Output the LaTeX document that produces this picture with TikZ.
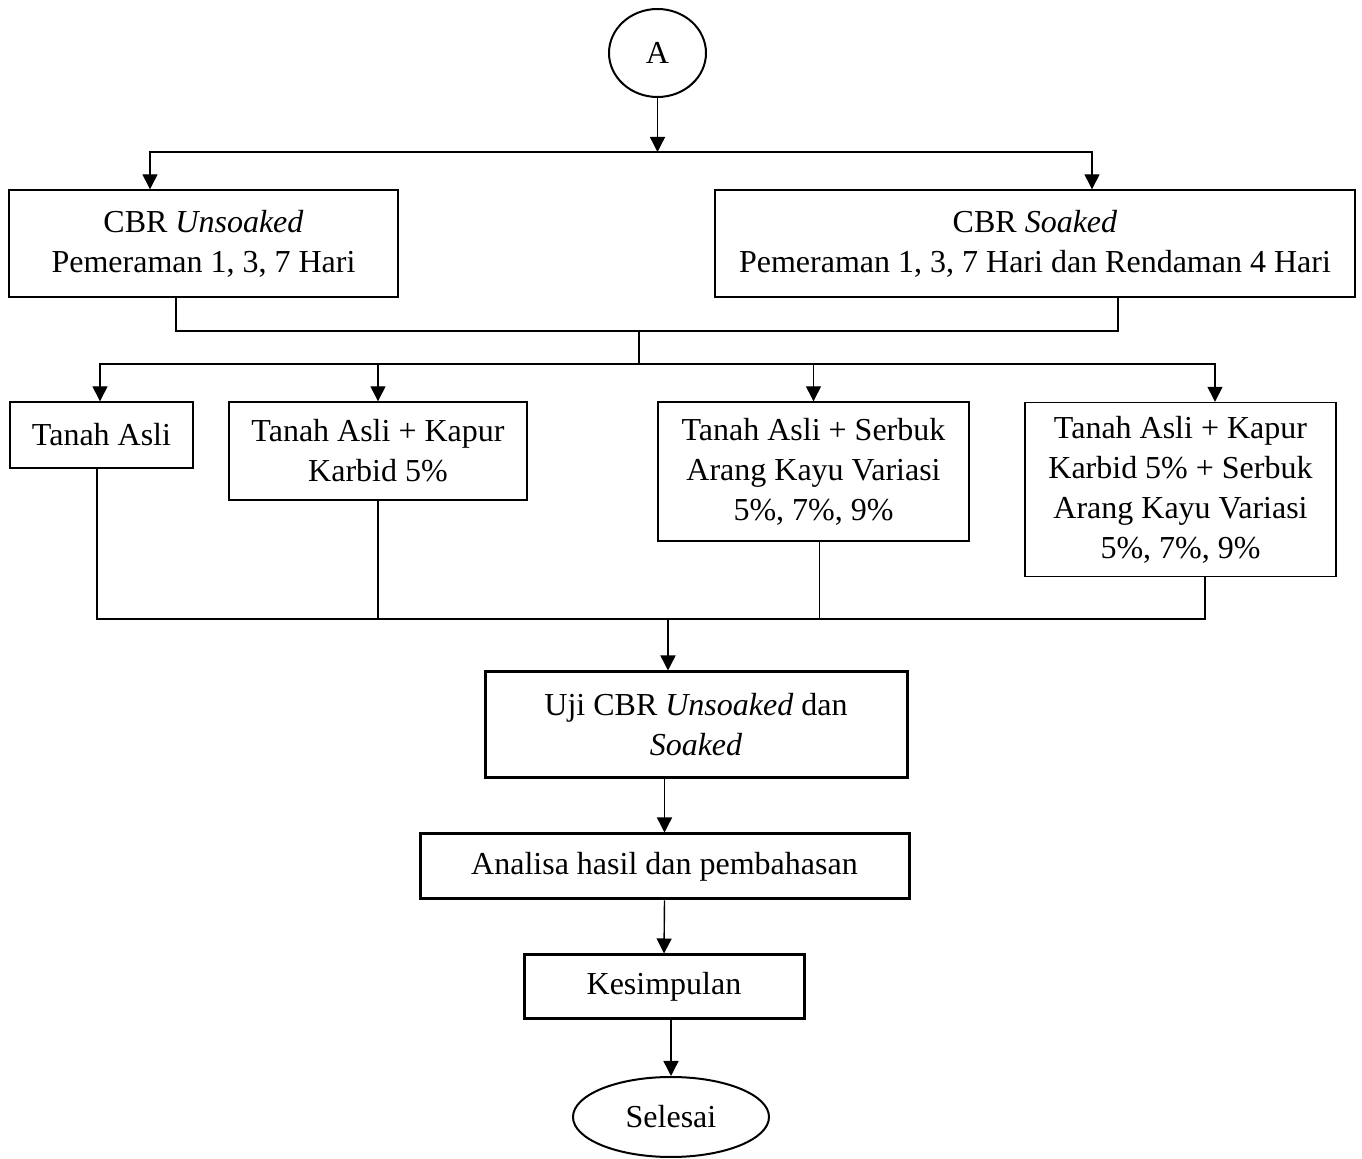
\documentclass[tikz,border=0pt]{standalone}
\usepackage{fontspec}
\setmainfont{Liberation Serif}
\usetikzlibrary{shapes.geometric, arrows.meta, positioning}

\tikzset{
    box/.style={draw, line width=0.7pt, rectangle, inner sep=0pt, align=center,
        font=\fontsize{16pt}{20pt}\selectfont},
    thickbox/.style={box, line width=1.5pt},
    term/.style={draw, line width=1pt, ellipse, inner sep=0pt,
        font=\fontsize{16pt}{20pt}\selectfont},
    arr/.style={line width=0.7pt, -{Triangle[length=7.5pt, width=7.5pt]}},
    link/.style={line width=0.7pt}
}

\begin{document}
\begin{tikzpicture}[x=0.5pt, y=-0.5pt]
    \useasboundingbox (0,0) rectangle (1362,1159);

    % Start connector
    \node[term, minimum width=48.5pt, minimum height=44pt] (A) at (657.5,53) {A};

    % CBR boxes
    \node[box, minimum width=194.5pt, minimum height=53.5pt] (unsoak) at (203.5,243.5)
        {CBR \textit{Unsoaked}\\Pemeraman 1, 3, 7 Hari};
    \node[box, minimum width=320pt, minimum height=53.5pt] (soak) at (1035,243.5)
        {CBR \textit{Soaked}\\Pemeraman 1, 3, 7 Hari dan Rendaman 4 Hari};

    % Mixture boxes (tops at y = 402)
    \node[box, minimum width=91.5pt, minimum height=33pt] (asli) at (101.5,435) {Tanah Asli};
    \node[box, minimum width=149pt, minimum height=49pt] (kapur) at (378,451)
        {Tanah Asli + Kapur\\Karbid 5\%};
    \node[box, minimum width=155.5pt, minimum height=69.5pt] (serbuk) at (813.5,471.5)
        {Tanah Asli + Serbuk\\Arang Kayu Variasi\\5\%, 7\%, 9\%};
    \node[box, minimum width=155.5pt, minimum height=87pt] (campur) at (1180.5,489.5)
        {Tanah Asli + Kapur\\Karbid 5\% + Serbuk\\Arang Kayu Variasi\\5\%, 7\%, 9\%};

    % Test, analysis, conclusion
    \node[thickbox, minimum width=211pt, minimum height=53pt] (uji) at (696,725)
        {Uji CBR \textit{Unsoaked} dan\\\textit{Soaked}};
    \node[thickbox, minimum width=244.5pt, minimum height=32.5pt] (analisa) at (664.5,866.5)
        {Analisa hasil dan pembahasan};
    \node[thickbox, minimum width=140pt, minimum height=32pt] (kesimpulan) at (664,987)
        {Kesimpulan};
    \node[term, minimum width=98pt, minimum height=40pt] (selesai) at (671,1117) {Selesai};

    % Bus points
    \coordinate (bus1) at (657.5,152);
    \coordinate (bus2) at (639,331);
    \coordinate (bus3) at (639,364);
    \coordinate (bus4) at (668,619);

    % A to CBR boxes
    \draw[arr] (A) -- (bus1);
    \draw[arr] (bus1) -| ([xshift=-26.75pt]unsoak.north);
    \draw[arr] (bus1) -| ([xshift=28.5pt]soak.north);

    % CBR boxes to mixtures
    \draw[link] ([xshift=-13.75pt]unsoak.south) |- (bus2) -| ([xshift=41.5pt]soak.south);
    \draw[link] (bus2) -- (bus3);
    \draw[arr] (bus3) -| ([xshift=-0.75pt]asli.north);
    \draw[arr] (bus3) -| (kapur.north);
    \draw[arr] (bus3) -| (serbuk.north);
    \draw[arr] (bus3) -| ([xshift=17.25pt]campur.north);

    % Mixtures to test
    \draw[link] ([xshift=-2.25pt]asli.south) |- (bus4);
    \draw[link] (kapur.south) |- (bus4);
    \draw[link] ([xshift=3pt]serbuk.south) |- (bus4);
    \draw[link] ([xshift=12.25pt]campur.south) |- (bus4);
    \draw[arr] (bus4) -- (bus4 |- uji.north);

    % Down to the end
    \draw[arr] (analisa.north |- uji.south) -- (analisa.north);
    \draw[arr] (analisa.south) -- (kesimpulan.north);
    \draw[arr] (kesimpulan.south -| selesai.north) -- (selesai.north);
\end{tikzpicture}
\end{document}
